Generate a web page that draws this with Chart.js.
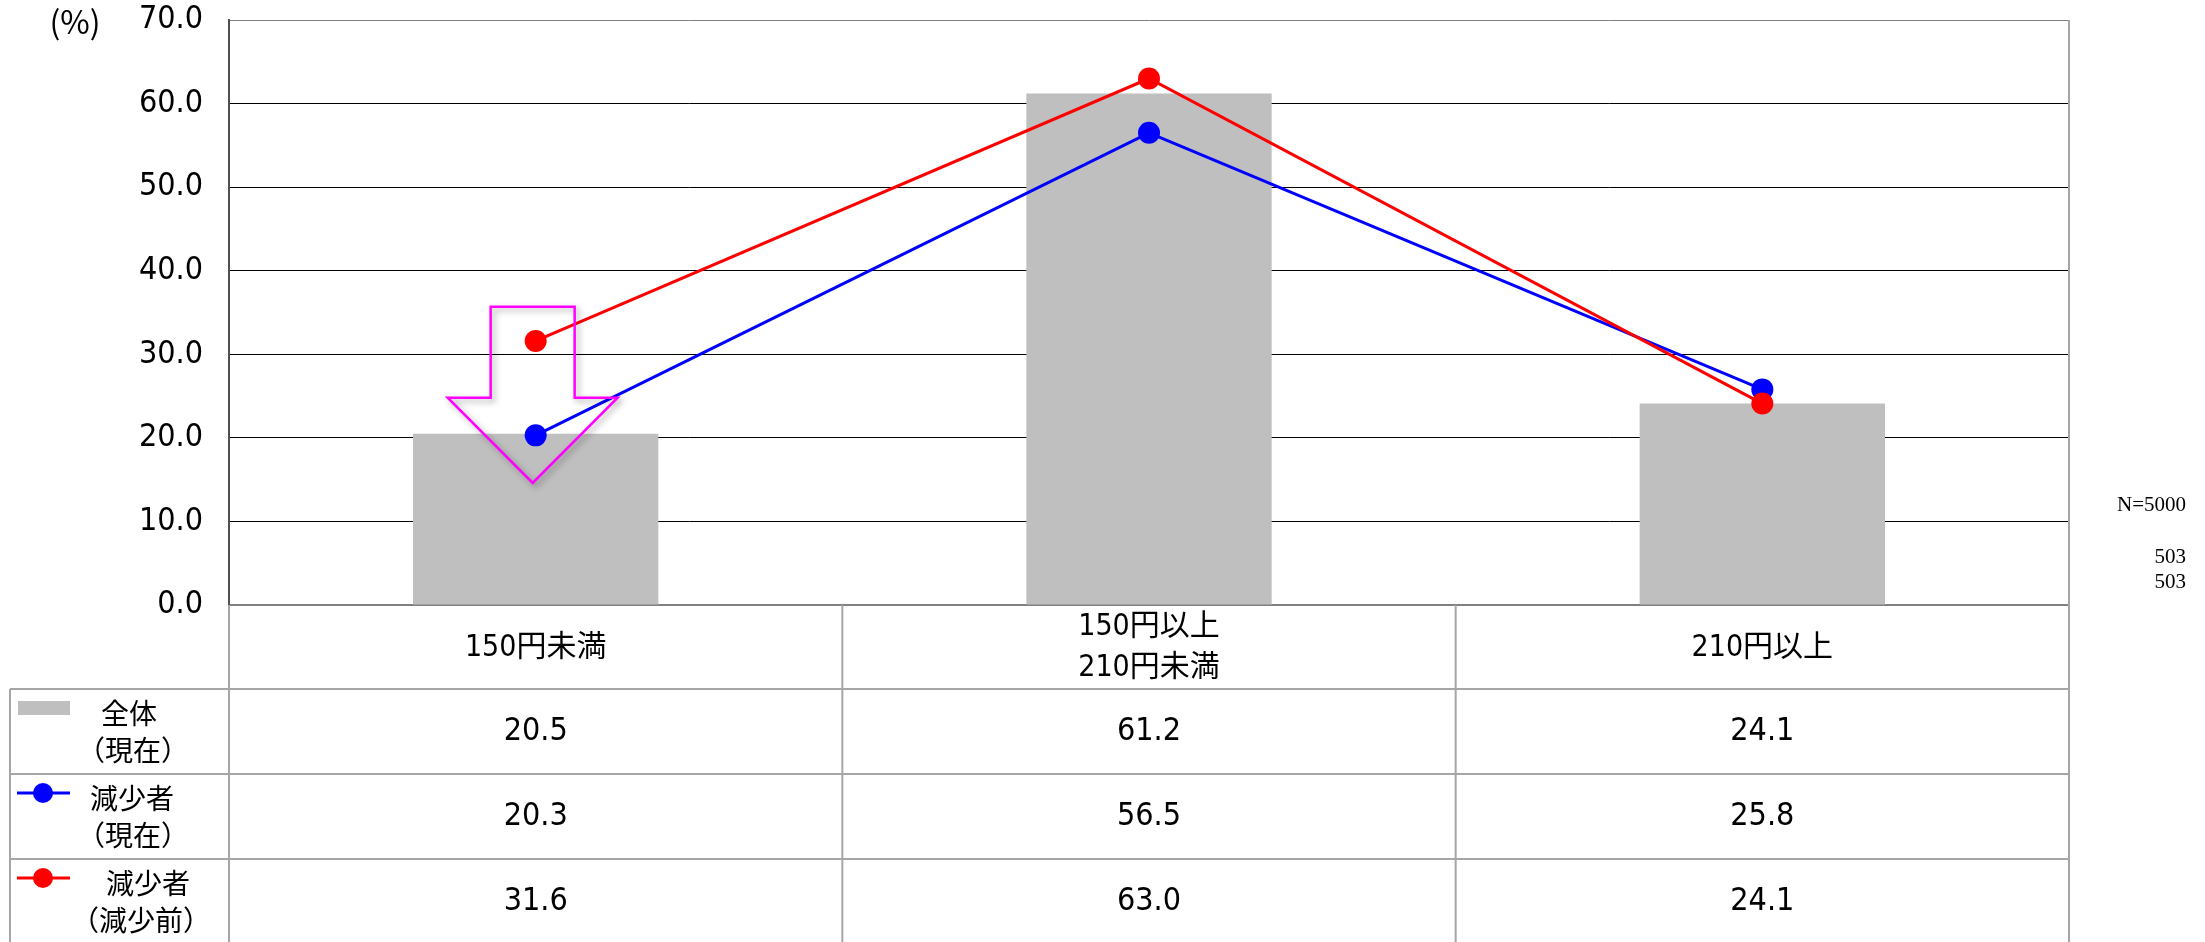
<!DOCTYPE html>
<html lang="ja">
<head>
<meta charset="utf-8">
<title>価格帯別構成比</title>
<script src="https://cdn.jsdelivr.net/npm/chart.js@4/dist/chart.umd.min.js"></script>
<style>
  html, body { margin: 0; padding: 0; background: #ffffff; }
  #wrap { width: 2205px; height: 942px; position: relative; }
</style>
</head>
<body>
<div id="wrap"><canvas id="chart" width="2205" height="942"></canvas></div>
<script>
// Price bands (category labels, split into lines for the table header)
const categories = [['150円未満'], ['150円以上', '210円未満'], ['210円以上']];
// Share of respondents (%)
const totalNow = [20.5, 61.2, 24.1];        // 全体（現在）
const reducedNow = [20.3, 56.5, 25.8];      // 減少者（現在）
const reducedBefore = [31.6, 63.0, 24.1];   // 減少者（減少前）
// Row labels of the data table
const seriesNames = [['全体', '（現在）'], ['減少者', '（現在）'], ['減少者', '（減少前）']];
// Sample sizes printed at the right
const sampleSizes = ['N=5000', '503', '503'];
// Value axis
const yMin = 0, yMax = 70, yStep = 10;
const unitLabel = '(%)';
// Down arrow annotation on the first band (value-axis levels)
const arrowLevels = { top: 35.7, shoulder: 24.8, tip: 14.6 };

const NUM_FONT = "'Liberation Sans Narrow', 'DejaVu Sans Condensed', 'Roboto Condensed', 'Noto Sans CJK JP', sans-serif";
const CJK_FONT = "'Noto Sans CJK JP', sans-serif";
const GRID_GRAY = '#A6A6A6';

const tablePlugin = {
  id: 'dataTable',
  afterDatasetsDraw(chart) {
    // magenta hollow down-arrow with a soft shadow
    const { ctx, scales: { x, y } } = chart;
    const cx = x.getPixelForValue(0) - 3;
    const yt = y.getPixelForValue(arrowLevels.top);
    const ys = y.getPixelForValue(arrowLevels.shoulder);
    const yp = y.getPixelForValue(arrowLevels.tip);
    const sh = 42, hh = 85;
    ctx.save();
    ctx.beginPath();
    ctx.moveTo(cx - sh, yt);
    ctx.lineTo(cx + sh, yt);
    ctx.lineTo(cx + sh, ys);
    ctx.lineTo(cx + hh, ys);
    ctx.lineTo(cx, yp);
    ctx.lineTo(cx - hh, ys);
    ctx.lineTo(cx - sh, ys);
    ctx.closePath();
    ctx.shadowColor = 'rgba(0,0,0,0.35)';
    ctx.shadowBlur = 6;
    ctx.shadowOffsetX = 3;
    ctx.shadowOffsetY = 3;
    ctx.strokeStyle = '#FF00FF';
    ctx.lineWidth = 2.5;
    ctx.lineJoin = 'miter';
    ctx.stroke();
    ctx.restore();
  },
  afterDraw(chart) {
    const { ctx, chartArea: { left, right, bottom, top }, scales: { x } } = chart;
    const n = categories.length;
    const colW = x.getPixelForValue(1) - x.getPixelForValue(0);
    const bounds = [];
    for (let i = 0; i < n; i++) bounds.push(x.getPixelForValue(i) - colW / 2);
    bounds.push(x.getPixelForValue(n - 1) + colW / 2);
    const tableLeft = 10;
    const rowH = [84, 85, 85, 85];
    const rowTops = [bottom];
    rowH.forEach((h, i) => rowTops.push(rowTops[i] + h));

    ctx.save();
    // grid of the table
    ctx.strokeStyle = GRID_GRAY;
    ctx.lineWidth = 2;
    ctx.beginPath();
    for (let r = 1; r < rowTops.length - 1; r++) {
      ctx.moveTo(tableLeft, rowTops[r]);
      ctx.lineTo(bounds[n], rowTops[r]);
    }
    ctx.moveTo(tableLeft, rowTops[1]);
    ctx.lineTo(tableLeft, 942);
    bounds.forEach((bx, i) => {
      ctx.moveTo(bx, i === n ? top : bottom);
      ctx.lineTo(bx, 942);
    });
    ctx.stroke();

    ctx.fillStyle = '#000';
    ctx.textAlign = 'center';
    ctx.textBaseline = 'middle';
    // header: category labels
    ctx.font = '30px ' + NUM_FONT;
    categories.forEach((lines, i) => {
      const cxp = x.getPixelForValue(i);
      const cy = (rowTops[0] + rowTops[1]) / 2 + 1;
      const lh = 41;
      lines.forEach((t, k) => {
        ctx.fillText(t, cxp, cy + (k - (lines.length - 1) / 2) * lh);
      });
    });

    // value rows
    const series = [totalNow, reducedNow, reducedBefore];
    ctx.font = '32px ' + NUM_FONT;
    series.forEach((vals, r) => {
      const cy = (rowTops[r + 1] + rowTops[r + 2]) / 2;
      vals.forEach((v, i) => ctx.fillText(v.toFixed(1), x.getPixelForValue(i), cy));
    });

    // row legends
    const labelX = [[129, 133], [132, 133], [148, 141]];
    ctx.font = '28px ' + CJK_FONT;
    seriesNames.forEach((lines, r) => {
      const cy = (rowTops[r + 1] + rowTops[r + 2]) / 2;
      lines.forEach((t, k) => ctx.fillText(t, labelX[r][k], cy + (k - 0.5) * 37));
    });
    // legend keys
    const keyTop = rowTops[1] + 12;
    ctx.fillStyle = '#BFBFBF';
    ctx.fillRect(18, keyTop, 52, 14);
    [['#0000FF', rowTops[2] + 19], ['#FF0000', rowTops[3] + 19]].forEach(([c, ky]) => {
      ctx.strokeStyle = c;
      ctx.fillStyle = c;
      ctx.lineWidth = 3;
      ctx.beginPath();
      ctx.moveTo(17, ky);
      ctx.lineTo(70, ky);
      ctx.stroke();
      ctx.beginPath();
      ctx.arc(43, ky, 10, 0, Math.PI * 2);
      ctx.fill();
    });

    // unit label
    ctx.fillStyle = '#000';
    ctx.font = '32px ' + CJK_FONT;
    ctx.fillText(unitLabel, 75, top + 2);

    // sample sizes
    ctx.font = "21px 'Liberation Serif', 'Times New Roman', serif";
    ctx.textAlign = 'right';
    const nY = [bottom - 100, bottom - 48, bottom - 23];
    sampleSizes.forEach((t, i) => ctx.fillText(t, right + 117, nY[i]));
    ctx.restore();
  }
};

new Chart(document.getElementById('chart'), {
  data: {
    labels: categories.map(c => c.join('')),
    datasets: [
      {
        type: 'line', label: '減少者（減少前）', data: reducedBefore, order: 1,
        borderColor: '#FF0000', backgroundColor: '#FF0000', borderWidth: 3,
        pointRadius: 11, pointBorderWidth: 0, pointHoverRadius: 11, tension: 0
      },
      {
        type: 'line', label: '減少者（現在）', data: reducedNow, order: 2,
        borderColor: '#0000FF', backgroundColor: '#0000FF', borderWidth: 3,
        pointRadius: 11, pointBorderWidth: 0, pointHoverRadius: 11, tension: 0
      },
      {
        type: 'bar', label: '全体（現在）', data: totalNow, order: 3,
        backgroundColor: '#BFBFBF', borderWidth: 0,
        barPercentage: 0.4, categoryPercentage: 1.0
      }
    ]
  },
  options: {
    responsive: false,
    animation: false,
    devicePixelRatio: 1,
    layout: { padding: { top: 20, right: 136, bottom: 337, left: 0 } },
    plugins: { legend: { display: false }, tooltip: { enabled: false } },
    scales: {
      x: {
        type: 'category',
        offset: true,
        grid: { display: false },
        ticks: { display: false },
        border: { display: true, color: '#808080', width: 2 },
        afterFit(scale) { scale.height = 0; }
      },
      y: {
        min: yMin, max: yMax,
        ticks: {
          stepSize: yStep,
          padding: 26,
          color: '#000',
          font: { family: NUM_FONT, size: 32 },
          callback: v => Number(v).toFixed(1)
        },
        grid: {
          drawTicks: false,
          tickLength: 0,
          lineWidth: 1,
          color: ctx => ctx.tick && ctx.tick.value === yMax ? '#808080'
                      : (ctx.tick && ctx.tick.value === yMin ? 'rgba(0,0,0,0)' : '#000000')
        },
        border: { display: true, color: '#505050', width: 2 },
        afterFit(scale) {
          scale.width = 229;
          scale.paddingTop = 0;
          scale.paddingBottom = 0;
        }
      }
    }
  },
  plugins: [tablePlugin]
});
</script>
</body>
</html>
